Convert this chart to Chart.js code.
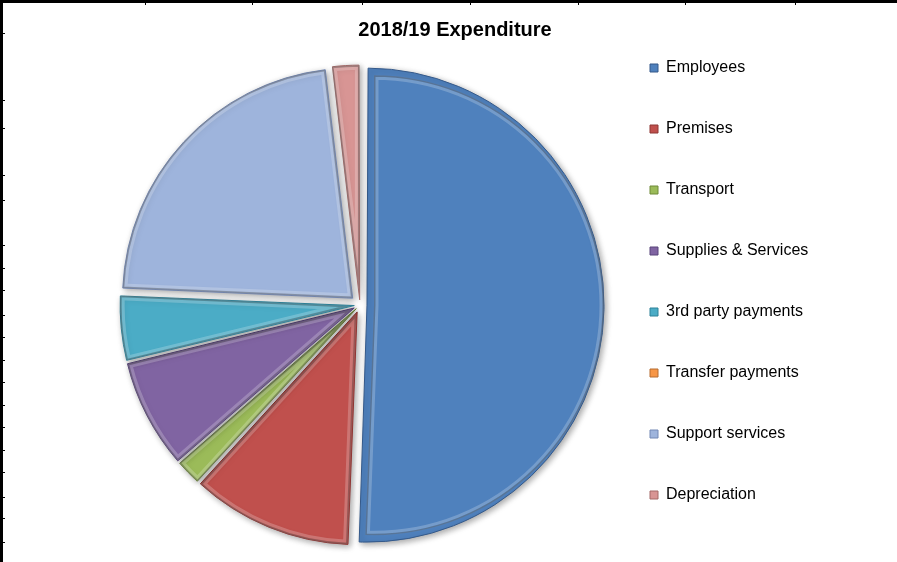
<!DOCTYPE html>
<html>
<head>
<meta charset="utf-8">
<script src="https://cdn.jsdelivr.net/npm/chart.js@4/dist/chart.umd.min.js"></script>
<style>
  html, body { margin: 0; padding: 0; background: #fff; }
  #wrap { position: relative; width: 897px; height: 562px; overflow: hidden; }
  #c { position: absolute; left: 0; top: 0; }
  .ln { position: absolute; background: #000; }
</style>
</head>
<body>
<div id="wrap">
  <canvas id="c" width="897" height="562"></canvas>
</div>
<script>
// ---- data ----
const categories = ["Employees", "Premises", "Transport", "Supplies & Services",
                    "3rd party payments", "Transfer payments", "Support services", "Depreciation"];
const expenditurePct = [50.6, 11.2, 1.8, 7.6, 4.5, 0, 22.4, 1.9];
const titleText = "2018/19 Expenditure";

// ---- styles ----
const sliceColors = ["#4F81BD", "#C0504D", "#9BBB59", "#8064A2", "#4BACC6", "#F79646", "#9EB4DC", "#D89594"];
const sliceBorders = ["#34598A", "#8E3634", "#6E8A38", "#58447A", "#2F8299", "#B66D31", "#7388B5", "#A46A69"];
// Chart.js translates an arc by offset/4*(1+fix); these give ~10-14px explosion
const sliceOffsets = [28, 30, 21, 26, 23, 20, 40, 21];

// frame lines (spreadsheet border peeking around the picture)
const wrap = document.getElementById('wrap');
function addLine(x, y, w, h) {
  const d = document.createElement('div');
  d.className = 'ln';
  d.style.left = x + 'px'; d.style.top = y + 'px';
  d.style.width = w + 'px'; d.style.height = h + 'px';
  wrap.appendChild(d);
}
addLine(0, 0, 897, 3);
addLine(0, 0, 3, 562);
[145, 252, 362, 470, 578, 685, 795].forEach(x => addLine(x, 0, 1, 5));
[33, 100, 128, 175, 200, 245, 268, 290, 315, 337, 360, 382, 405, 427, 450, 472, 497, 518, 542].forEach(y => addLine(0, y, 5, 1));

function arcShift(arc, off) {
  const circ = arc.endAngle - arc.startAngle;
  const fix = 1 - Math.sin(Math.min(Math.PI, circ || 0));
  return off / 4 * (1 + fix);
}

const legendNoClip = {
  id: 'legendNoClip',
  afterLayout(chart) {
    const l = chart.legend;
    if (l) { l.right = l.left + 280; l.width = 280; }
  }
};

const bevelPlugin = {
  id: 'bevel',
  beforeDatasetsDraw(chart) {
    const ctx = chart.ctx;
    ctx.save();
    ctx.shadowColor = 'rgba(0,0,0,0.35)';
    ctx.shadowBlur = 6;
    ctx.shadowOffsetX = 2;
    ctx.shadowOffsetY = 2;
  },
  afterDatasetsDraw(chart) {
    const ctx = chart.ctx;
    ctx.restore();
    const meta = chart.getDatasetMeta(0);
    meta.data.forEach((arc, i) => {
      if (!expenditurePct[i]) return;
      const mid = (arc.startAngle + arc.endAngle) / 2;
      const d = arcShift(arc, sliceOffsets[i]);
      const cx = arc.x + Math.cos(mid) * d;
      const cy = arc.y + Math.sin(mid) * d;
      ctx.save();
      ctx.beginPath();
      ctx.moveTo(cx, cy);
      ctx.arc(cx, cy, arc.outerRadius, arc.startAngle, arc.endAngle);
      ctx.closePath();
      ctx.clip();
      ctx.lineJoin = 'round';
      ctx.lineWidth = 9;
      ctx.strokeStyle = 'rgba(255,255,255,0.22)';
      ctx.stroke();
      ctx.lineWidth = 3;
      ctx.strokeStyle = 'rgba(0,0,0,0.25)';
      ctx.stroke();
      ctx.restore();
    });
  }
};

new Chart(document.getElementById('c'), {
  type: 'pie',
  data: {
    labels: categories,
    datasets: [{
      data: expenditurePct,
      backgroundColor: sliceColors,
      borderColor: sliceBorders,
      borderWidth: 1,
      offset: sliceOffsets,
      hoverOffset: 0
    }]
  },
  options: {
    responsive: false,
    animation: false,
    radius: 230,
    layout: { padding: { left: 115, right: 102, top: 10, bottom: 9 } },
    plugins: {
      title: {
        display: true,
        text: titleText,
        color: '#000',
        font: { family: "'Liberation Sans', Arial, sans-serif", size: 20, weight: 'bold' },
        padding: { top: 8, bottom: 15 }
      },
      legend: {
        display: true,
        position: 'right',
        maxWidth: 190,
        labels: {
          color: '#000',
          font: { family: "'Liberation Sans', Arial, sans-serif", size: 16 },
          boxWidth: 8,
          boxHeight: 8,
          padding: 45
        }
      },
      tooltip: { enabled: false }
    }
  },
  plugins: [bevelPlugin, legendNoClip]
});
</script>
</body>
</html>
